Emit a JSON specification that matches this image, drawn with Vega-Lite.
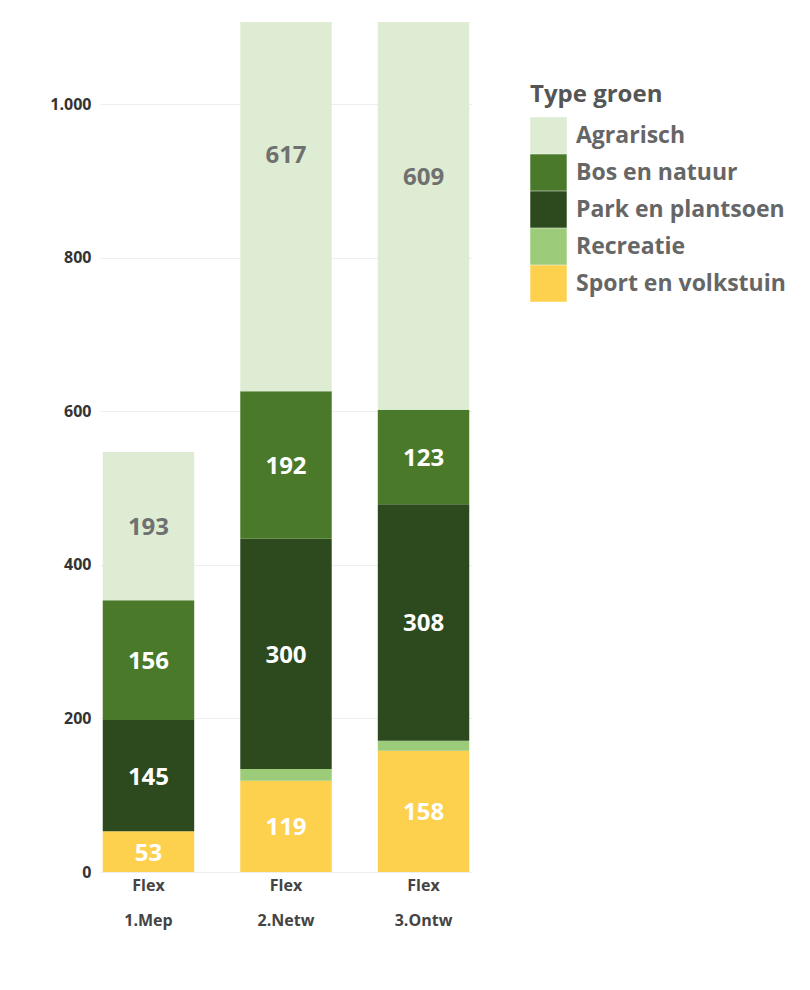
{
  "$schema": "https://vega.github.io/schema/vega-lite/v6.json",
  "width": 372,
  "height": 850,
  "autosize": {"type": "none"},
  "padding": {"left": 100, "top": 22, "right": 338, "bottom": 118},
  "background": "white",
  "config": {
    "view": {"stroke": null},
    "font": "Open Sans"
  },
  "data": {
    "values": [
      {"scenario": "1.Mep", "variant": "Flex", "type": "Sport en volkstuin", "value": 53},
      {"scenario": "1.Mep", "variant": "Flex", "type": "Park en plantsoen", "value": 145},
      {"scenario": "1.Mep", "variant": "Flex", "type": "Bos en natuur", "value": 156},
      {"scenario": "1.Mep", "variant": "Flex", "type": "Agrarisch", "value": 193},
      {"scenario": "2.Netw", "variant": "Flex", "type": "Sport en volkstuin", "value": 119},
      {"scenario": "2.Netw", "variant": "Flex", "type": "Recreatie", "value": 15},
      {"scenario": "2.Netw", "variant": "Flex", "type": "Park en plantsoen", "value": 300},
      {"scenario": "2.Netw", "variant": "Flex", "type": "Bos en natuur", "value": 192},
      {"scenario": "2.Netw", "variant": "Flex", "type": "Agrarisch", "value": 617},
      {"scenario": "3.Ontw", "variant": "Flex", "type": "Sport en volkstuin", "value": 158},
      {"scenario": "3.Ontw", "variant": "Flex", "type": "Recreatie", "value": 13},
      {"scenario": "3.Ontw", "variant": "Flex", "type": "Park en plantsoen", "value": 308},
      {"scenario": "3.Ontw", "variant": "Flex", "type": "Bos en natuur", "value": 123},
      {"scenario": "3.Ontw", "variant": "Flex", "type": "Agrarisch", "value": 609}
    ]
  },
  "encoding": {
    "x": {
      "field": "scenario",
      "type": "nominal",
      "title": null,
      "scale": {"paddingInner": 0.335, "paddingOuter": 0.02},
      "axis": {
        "labelExpr": "['Flex', datum.label]",
        "labelAngle": 0,
        "labelFontSize": 16,
        "labelFontWeight": "bold",
        "labelColor": "#444444",
        "labelLineHeight": 35,
        "labelPadding": 5,
        "ticks": false,
        "domain": false,
        "grid": false
      }
    },
    "y": {
      "field": "value",
      "type": "quantitative",
      "stack": "zero",
      "title": null,
      "scale": {"domain": [0, 1107], "nice": false},
      "axis": {
        "values": [0, 200, 400, 600, 800, 1000],
        "labelExpr": "replace(format(datum.value, ','), ',', '.')",
        "labelFontSize": 16,
        "labelFontWeight": "bold",
        "labelColor": "#333333",
        "labelPadding": 9,
        "ticks": false,
        "domain": false,
        "gridColor": "#eeeeee",
        "gridWidth": 1
      }
    },
    "order": {"field": "type", "sort": "descending"}
  },
  "layer": [
    {
      "mark": {"type": "bar", "clip": true},
      "encoding": {
        "color": {
          "field": "type",
          "type": "nominal",
          "scale": {
            "domain": ["Agrarisch", "Bos en natuur", "Park en plantsoen", "Recreatie", "Sport en volkstuin"],
            "range": ["#ddecd3", "#4a7a29", "#2c4a1e", "#9ccb79", "#fdd04e"]
          },
          "legend": {
            "title": "Type groen",
            "orient": "none",
            "legendX": 430,
            "legendY": 61,
            "titleFontSize": 24,
            "titleFontWeight": "bold",
            "titleColor": "#555555",
            "titlePadding": 10,
            "labelFontSize": 23,
            "labelFontWeight": "bold",
            "labelColor": "#666666",
            "labelOffset": 9,
            "labelLimit": 400,
            "symbolType": "square",
            "symbolSize": 1330,
            "symbolStrokeWidth": 0,
            "symbolOpacity": 1,
            "rowPadding": 0
          }
        }
      }
    },
    {
      "mark": {"type": "text", "fontSize": 24, "fontWeight": "bold", "baseline": "middle", "dy": 2, "clip": true},
      "encoding": {
        "y": {"field": "value", "type": "quantitative", "stack": "zero", "bandPosition": 0.5},
        "text": {
          "condition": {"test": "datum.type === 'Recreatie'", "value": ""},
          "field": "value",
          "type": "quantitative"
        },
        "color": {
          "condition": {"test": "datum.type === 'Agrarisch'", "value": "#707070"},
          "value": "#ffffff"
        }
      }
    }
  ]
}
